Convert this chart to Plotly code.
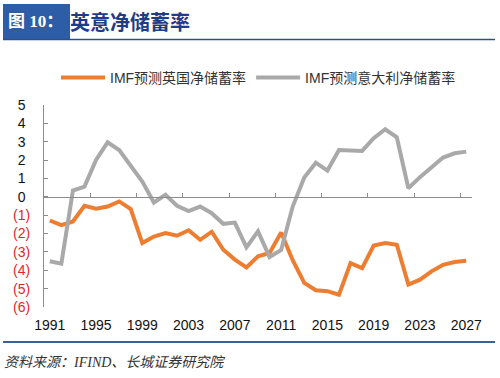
import plotly.graph_objects as go

years = list(range(1991, 2028))
uk_saving = [-1.29, -1.54, -1.34, -0.49, -0.65, -0.53, -0.25, -0.67, -2.52, -2.16,
             -1.97, -2.12, -1.82, -2.34, -1.90, -2.88, -3.42, -3.84, -3.24, -3.06,
             -1.94, -3.45, -4.69, -5.09, -5.14, -5.33, -3.61, -3.88, -2.65, -2.52,
             -2.61, -4.78, -4.51, -4.06, -3.70, -3.55, -3.48]
it_saving = [-3.51, -3.64, 0.34, 0.56, 2.01, 2.97, 2.55, 1.70, 0.83, -0.31,
             0.11, -0.49, -0.78, -0.53, -0.89, -1.47, -1.40, -2.75, -1.88, -3.28,
             -2.90, -0.53, 1.05, 1.86, 1.43, 2.55, 2.55, 2.50, 3.19, 3.68,
             3.24, 0.47, 1.07, 1.61, 2.14, 2.37, 2.46]
series_names = ["IMF预测英国净储蓄率", "IMF预测意大利净储蓄率"]
x_tick_years = [1991, 1995, 1999, 2003, 2007, 2011, 2015, 2019, 2023, 2027]
y_ticks = [5, 4, 3, 2, 1, 0, -1, -2, -3, -4, -5, -6]

RED = "#E02828"
def ylab(v):
    if v < 0:
        return f"<span style='color:{RED}'>({-v})</span>"
    return f"{v}<span style='color:rgba(0,0,0,0)'>)</span>"

W, H = 500, 378
L, R, T, B = 44, 28, 105, 71
pw, ph = W - L - R, H - T - B
def px(x): return (x - L) / pw
def py(y): return (H - B - y) / ph

FONT = "Liberation Sans, Noto Sans CJK SC, sans-serif"
AXC = "#8C8C8C"

fig = go.Figure()
fig.add_trace(go.Scatter(x=years, y=uk_saving, mode="lines", name=series_names[0],
                         line=dict(color="#ED7D31", width=4)))
fig.add_trace(go.Scatter(x=years, y=it_saving, mode="lines", name=series_names[1],
                         line=dict(color="#A9A9A9", width=4)))

xr = [1990.5, 2027.5]
fig.update_layout(
    width=W, height=H,
    margin=dict(l=L, r=R, t=T, b=B, autoexpand=False),
    paper_bgcolor="white", plot_bgcolor="white",
    font=dict(family=FONT, size=14, color="#222"),
    showlegend=True,
    legend=dict(orientation="h", x=px(56), y=py(78), yanchor="middle", xanchor="left",
                font=dict(size=14, family=FONT, color="#333"), bgcolor="rgba(0,0,0,0)",
                itemwidth=44, tracegroupgap=0),
    xaxis=dict(range=xr, tickmode="array", tickvals=x_tick_years,
               ticktext=[str(v) for v in x_tick_years], ticks="", showline=False,
               showgrid=False, zeroline=False, ticklabelstandoff=8, automargin=False,
               tickfont=dict(size=14, color="#111")),
    xaxis2=dict(range=xr, overlaying="x", anchor="free", position=6/11, side="bottom",
                tickmode="array", tickvals=[y + 3.5 for y in x_tick_years[:-1]],
                ticks="inside", ticklen=4, tickcolor=AXC, showline=True, linecolor=AXC,
                linewidth=1, showticklabels=False, showgrid=False, zeroline=False,
                automargin=False),
    yaxis=dict(range=[-6, 5], tickmode="array", tickvals=y_ticks,
               ticktext=[ylab(v) for v in y_ticks], ticks="inside", ticklen=4,
               tickcolor=AXC, showline=True, linecolor=AXC, linewidth=1,
               showgrid=False, zeroline=False, ticklabelstandoff=10, automargin=False,
               tickfont=dict(size=14, color="#111")),
)
fig.add_trace(go.Scatter(x=[None], y=[None], xaxis="x2", showlegend=False))

# header
fig.add_shape(type="rect", xref="paper", yref="paper", x0=px(3), x1=px(70), y0=py(39), y1=py(4),
              fillcolor="#2D5DA6", line=dict(width=0), layer="above")
fig.add_shape(type="line", xref="paper", yref="paper", x0=px(3), x1=px(495), y0=py(39.5), y1=py(39.5),
              line=dict(color="#2D4F8E", width=1.5))
fig.add_annotation(xref="paper", yref="paper", x=px(6), y=py(21.5), xanchor="left", yanchor="middle",
                   text="<b>图 10：</b>", showarrow=False,
                   font=dict(family="Liberation Serif, Noto Sans CJK SC", size=17, color="white"))
fig.add_annotation(xref="paper", yref="paper", x=px(68), y=py(21.5), xanchor="left", yanchor="middle",
                   text="<b>英意净储蓄率</b>", showarrow=False,
                   font=dict(family="Noto Sans CJK SC", size=20, color="#1F3C88"))
# footer
fig.add_shape(type="line", xref="paper", yref="paper", x0=px(3), x1=px(495), y0=py(342), y1=py(342),
              line=dict(color="#3A6196", width=2))
fig.add_annotation(xref="paper", yref="paper", x=px(2), y=py(362), xanchor="left", yanchor="middle",
                   text="<i>资料来源：IFIND、长城证券研究院</i>", showarrow=False,
                   font=dict(family="Liberation Serif, Noto Sans CJK SC", size=14, color="#333"))

fig.write_html("out.html", config={"displayModeBar": False},
               post_script="document.body.style.margin='0';")
